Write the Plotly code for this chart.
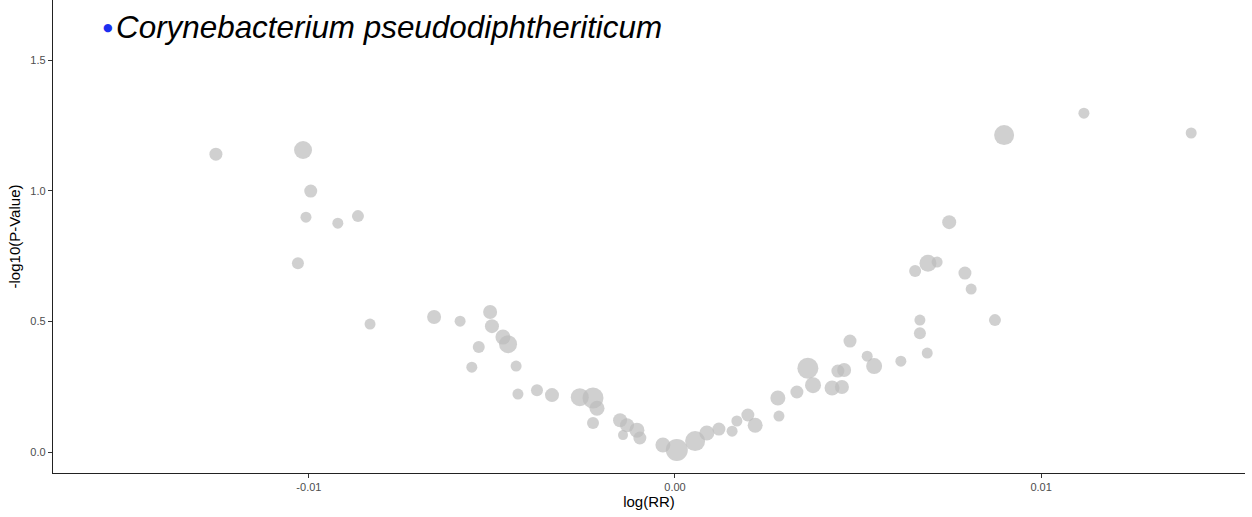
import plotly.graph_objects as go

# log(RR) values
log_rr = [
    -0.01254, -0.01016, -0.00995, -0.01008, -0.00921, -0.00866, -0.01030, -0.00833,
    -0.00658, -0.00587, -0.00505, -0.00500, -0.00470, -0.00456, -0.00536, -0.00555,
    -0.00434, -0.00429, -0.00377, -0.00336, -0.00260, -0.00224, -0.00213, -0.00224,
    -0.00150, -0.00131, -0.00142, -0.00104, -0.00096, -0.00033, 0.00005, 0.00055,
    0.00087, 0.00120, 0.00156, 0.00169, 0.00199, 0.00219, 0.00284, 0.00281,
    0.00333, 0.00363, 0.00377, 0.00429, 0.00456, 0.00445, 0.00462, 0.00478,
    0.00525, 0.00544, 0.00617, 0.00669, 0.00669, 0.00689, 0.00656, 0.00691,
    0.00716, 0.00749, 0.00792, 0.00809, 0.00874, 0.00899, 0.01117, 0.01410,
]
# -log10(P-Value)
neg_log_p = [
    1.140, 1.156, 0.999, 0.899, 0.876, 0.903, 0.723, 0.490,
    0.517, 0.501, 0.536, 0.482, 0.440, 0.413, 0.402, 0.325,
    0.329, 0.222, 0.237, 0.218, 0.210, 0.207, 0.168, 0.111,
    0.122, 0.103, 0.065, 0.084, 0.054, 0.027, 0.008, 0.042,
    0.073, 0.088, 0.080, 0.119, 0.142, 0.103, 0.138, 0.207,
    0.230, 0.321, 0.256, 0.245, 0.249, 0.310, 0.314, 0.425,
    0.367, 0.329, 0.348, 0.505, 0.455, 0.379, 0.693, 0.723,
    0.727, 0.880, 0.685, 0.624, 0.505, 1.213, 1.297, 1.221,
]
# point size variable
point_size = [
    13, 18, 13, 11, 11, 12, 12, 11,
    14, 11, 14, 14, 15, 18, 12, 11,
    11, 11, 12, 14, 18, 21, 15, 12,
    14, 14, 10, 15, 13, 15, 22, 20,
    15, 13, 11, 11, 13, 15, 11, 15,
    13, 21, 16, 15, 14, 13, 14, 13,
    11, 16, 11, 11, 12, 11, 12, 17,
    11, 14, 13, 11, 12, 20, 11, 11,
]

x_tickvals = [-0.01, 0.0, 0.01]
x_ticktext = ["-0.01", "0.00", "0.01"]
y_tickvals = [0.0, 0.5, 1.0, 1.5]
y_ticktext = ["0.0", "0.5", "1.0", "1.5"]
species = "Corynebacterium pseudodiphtheriticum"

fig = go.Figure()
fig.add_trace(go.Scatter(
    x=log_rr, y=neg_log_p, mode="markers",
    marker=dict(size=point_size, color="#bcbcbc", line=dict(width=0)),
    showlegend=False, hoverinfo="x+y",
))

axis_common = dict(
    showline=True, linecolor="#222222", linewidth=1.3,
    ticks="outside", ticklen=4, tickcolor="#333333", tickwidth=1,
    showgrid=False, zeroline=False, mirror=False,
    tickfont=dict(family="Liberation Sans, Arial, sans-serif", size=11, color="#4d4d4d"),
)

fig.update_layout(
    width=1252, height=517,
    paper_bgcolor="white", plot_bgcolor="white",
    margin=dict(l=53, r=7, t=0, b=44),
    font=dict(family="Liberation Sans, Arial, sans-serif"),
    xaxis=dict(
        range=[-0.01699, 0.01557], tickvals=x_tickvals, ticktext=x_ticktext,
        title=dict(text="log(RR)", font=dict(size=15, color="black"), standoff=2),
        **axis_common,
    ),
    yaxis=dict(
        range=[-0.080, 1.730], tickvals=y_tickvals, ticktext=y_ticktext,
        title=dict(text="-log10(P-Value)", font=dict(size=15, color="black"), standoff=6),
        **axis_common,
    ),
    annotations=[
        dict(
            xref="paper", yref="paper", x=0.0405, y=0.941, xanchor="left", yanchor="middle",
            text="\u25CF", showarrow=False,
            font=dict(family="DejaVu Sans, sans-serif", size=11, color="#1a2ff0"),
        ),
        dict(
            xref="paper", yref="paper", x=0.0512, y=0.941, xanchor="left", yanchor="middle",
            text="<i>" + species + "</i>", showarrow=False,
            font=dict(family="Liberation Sans, Arial, sans-serif", size=31.4, color="black"),
        ),
    ],
)

fig.write_html("out.html")
